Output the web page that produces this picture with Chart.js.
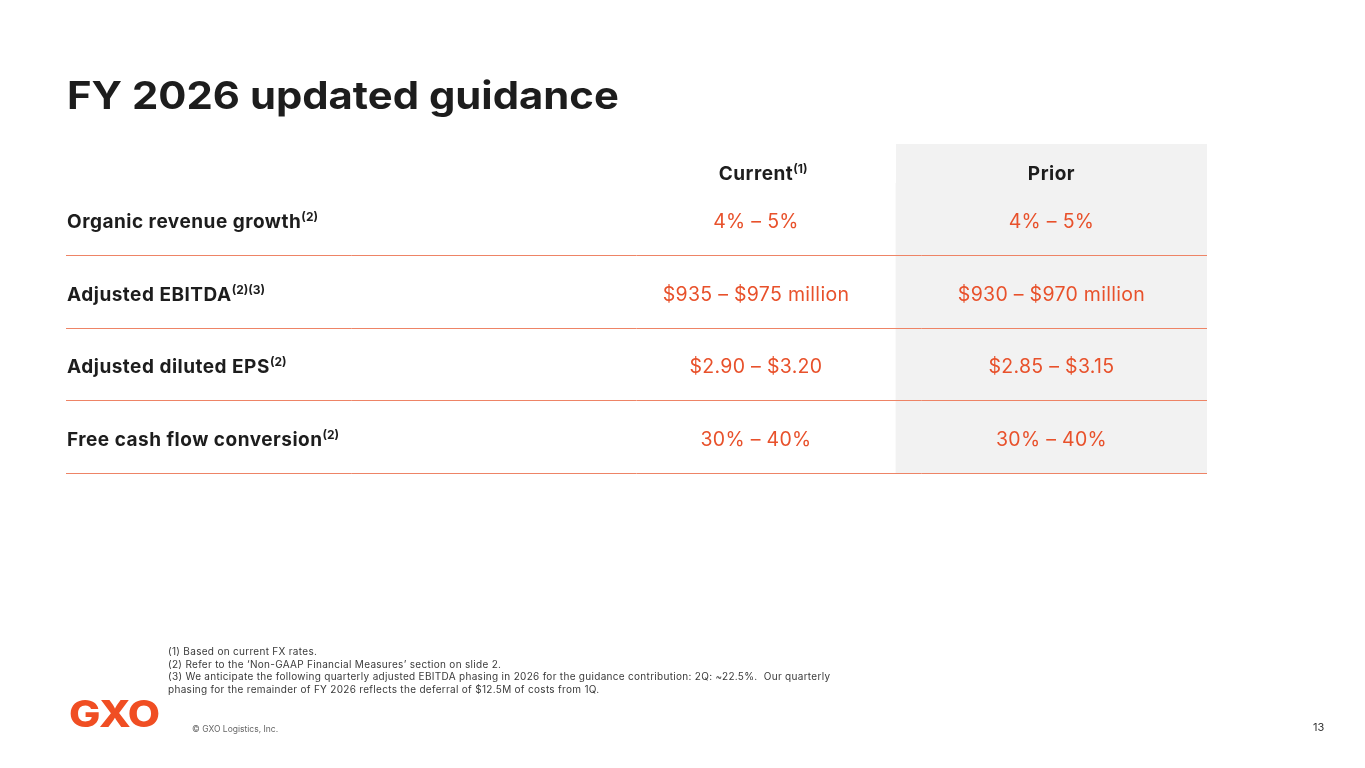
<!DOCTYPE html>
<html>
<head>
<meta charset="utf-8">
<script src="https://cdn.jsdelivr.net/npm/chart.js@4"></script>
<style>
  html, body { margin: 0; padding: 0; background: #fff; }
  body { width: 1365px; height: 768px; position: relative; overflow: hidden; font-family: Inter, "Open Sans", sans-serif; }
  #chartBox { position: absolute; left: 0; top: 0; width: 1365px; height: 768px; }
  .title { position: absolute; left: 67px; top: 76px; font-size: 38px; line-height: 38px; font-weight: 700; color: #1d1d1d; white-space: nowrap; transform: scaleX(1.1); transform-origin: 0 0; }
  .notes { position: absolute; left: 168px; top: 645px; font-size: 10px; line-height: 12.7px; letter-spacing: 0.3px; color: #3a3a3a; white-space: nowrap; }
  .logo { position: absolute; left: 69px; top: 695px; font-size: 37px; line-height: 37px; font-weight: 800; color: #f04e23; letter-spacing: -0.5px; transform: scaleX(1.13); transform-origin: 0 0; }
  .copy { position: absolute; left: 192px; top: 724px; font-size: 8.5px; line-height: 10px; color: #666; }
  .page { position: absolute; left: 1313px; top: 721px; font-size: 11px; line-height: 12px; color: #333; }
</style>
</head>
<body>
<div id="chartBox"><canvas id="guidance"></canvas></div>
<div class="title">FY 2026 updated guidance</div>
<div class="notes">
  (1) Based on current FX rates.<br>
  (2) Refer to the ‘Non-GAAP Financial Measures’ section on slide 2.<br>
  (3) We anticipate the following quarterly adjusted EBITDA phasing in 2026 for the guidance contribution: 2Q: ~22.5%.&nbsp; Our quarterly<br>
  phasing for the remainder of FY 2026 reflects the deferral of $12.5M of costs from 1Q.
</div>
<div class="logo">GXO</div>
<div class="copy">© GXO Logistics, Inc.</div>
<div class="page">13</div>
<script>
const rowLabels = ['Organic revenue growth', 'Adjusted EBITDA', 'Adjusted diluted EPS', 'Free cash flow conversion'];
const rowNotes = ['(2)', '(2)(3)', '(2)', '(2)'];
const columnHeads = ['Current', 'Prior'];
const columnNotes = ['(1)', ''];
const currentGuidance = ['4% – 5%', '$935 – $975 million', '$2.90 – $3.20', '30% – 40%'];
const priorGuidance = ['4% – 5%', '$930 – $970 million', '$2.85 – $3.15', '30% – 40%'];

// table layout, in percent of table width
const colEdges = [0, 48.2, 72.74, 100];
const headerHeight = 39;

const ORANGE = '#e8512b';
const LINE = '#ee8466';
const DARK = '#1d1d1d';
const FONT = 'Inter, "Open Sans", sans-serif';

const colCenter = i => (colEdges[i + 1] + colEdges[i + 2]) / 2;

// text with a superscript note after it
function drawWithNote(ctx, text, note, x, y, size, weight, color, align, spacing) {
  ctx.letterSpacing = spacing + 'px';
  ctx.font = weight + ' ' + size + 'px ' + FONT;
  const w = ctx.measureText(text).width;
  const left = align === 'center' ? x - w / 2 : x;
  ctx.fillStyle = color;
  ctx.textAlign = 'left';
  ctx.textBaseline = 'alphabetic';
  ctx.fillText(text, left, y);
  if (note) {
    ctx.letterSpacing = '0px';
    ctx.font = weight + ' ' + Math.round(size * 0.62) + 'px ' + FONT;
    ctx.fillText(note, left + w, y - size * 0.36);
  }
}

const tableText = {
  id: 'tableText',
  beforeDatasetsDraw(chart) {
    const { ctx, chartArea, scales: { x } } = chart;
    // header cell of the shaded column
    ctx.save();
    ctx.fillStyle = '#f2f2f2';
    const x0 = x.getPixelForValue(colEdges[2]);
    const x1 = x.getPixelForValue(colEdges[3]);
    ctx.fillRect(x0, chartArea.top - headerHeight, x1 - x0, headerHeight);
    ctx.restore();
  },
  afterDraw(chart) {
    const { ctx, chartArea, scales: { x, y } } = chart;
    ctx.save();
    columnHeads.forEach((h, i) => {
      drawWithNote(ctx, h, columnNotes[i], x.getPixelForValue(colCenter(i)), chartArea.top - 3, 19, 700, DARK, 'center', 0.5);
    });
    rowLabels.forEach((lab, r) => {
      const py = y.getPixelForValue(r) + 9;
      drawWithNote(ctx, lab, rowNotes[r], chartArea.left + 1, py, 19, 700, DARK, 'left', 0.5);
      drawWithNote(ctx, currentGuidance[r], '', x.getPixelForValue(colCenter(0)), py, 19.5, 400, ORANGE, 'center', 0.3);
      drawWithNote(ctx, priorGuidance[r], '', x.getPixelForValue(colCenter(1)), py, 19.5, 400, ORANGE, 'center', 0.3);
    });
    ctx.restore();
  }
};

new Chart(document.getElementById('guidance'), {
  type: 'bar',
  data: {
    labels: rowLabels,
    datasets: [{
      label: 'Prior',
      data: rowLabels.map(() => [colEdges[2], colEdges[3]]),
      backgroundColor: '#f2f2f2',
      borderWidth: 0,
      borderSkipped: false,
      barPercentage: 1,
      categoryPercentage: 1
    }]
  },
  options: {
    indexAxis: 'y',
    responsive: true,
    maintainAspectRatio: false,
    animation: false,
    events: [],
    layout: { padding: { left: 66, right: 158, top: 183, bottom: 295 } },
    plugins: { legend: { display: false }, tooltip: { enabled: false } },
    scales: {
      x: { type: 'linear', min: 0, max: 100, display: false },
      y: {
        ticks: { display: false },
        border: { display: false },
        grid: {
          offset: true,
          drawTicks: false,
          z: 1,
          lineWidth: 1,
          color: c => (c.index === 0 ? 'rgba(0,0,0,0)' : LINE)
        },
        afterFit: s => { s.width = 0; }
      }
    }
  },
  plugins: [tableText]
});
</script>
</body>
</html>
